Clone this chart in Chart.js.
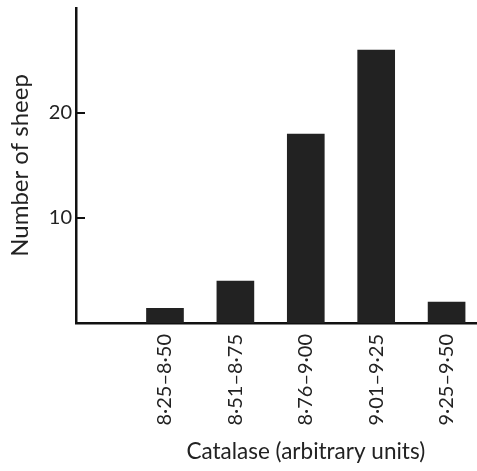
<!DOCTYPE html>
<html>
<head>
<meta charset="utf-8">
<script src="https://cdn.jsdelivr.net/npm/chart.js@4"></script>
<style>
  body { margin: 0; background: #fff; }
  canvas { display: block; }
</style>
</head>
<body>
<canvas id="chart" width="477" height="471"></canvas>
<script>
const categories = ["8·25–8·50", "8·51–8·75", "8·76–9·00", "9·01–9·25", "9·25–9·50"];
const positions = [1, 2, 3, 4, 5];
const sheepCounts = [1.4, 4, 18, 26, 2];
const yTickValues = [10, 20];

const ink = "#222";
const fontFamily = "Lato, 'Open Sans', sans-serif";

// short tick marks on the inner side of the y axis,
// and the x title under the middle class
const axisExtras = {
  id: "axisExtras",
  afterDraw(chart) {
    const ctx = chart.ctx;
    const y = chart.scales.y;
    ctx.save();
    ctx.strokeStyle = "#111";
    ctx.lineWidth = 2;
    y.ticks.forEach((t) => {
      const py = Math.round(y.getPixelForValue(t.value));
      ctx.beginPath();
      ctx.moveTo(y.right, py);
      ctx.lineTo(y.right + 9, py);
      ctx.stroke();
    });

    const x = chart.scales.x.getPixelForValue(3);
    ctx.font = "22.5px " + fontFamily;
    ctx.fillStyle = ink;
    ctx.textAlign = "center";
    ctx.textBaseline = "middle";
    ctx.fillText("Catalase (arbitrary units)", x, 452);
    ctx.restore();
  },
};

new Chart(document.getElementById("chart"), {
  type: "bar",
  data: {
    datasets: [
      {
        label: "Number of sheep",
        data: positions.map((p, i) => ({ x: p, y: sheepCounts[i] })),
        backgroundColor: ink,
        barThickness: 37,
      },
    ],
  },
  options: {
    responsive: false,
    animation: false,
    layout: { padding: { top: 8, right: 0, left: 0, bottom: 0 } },
    plugins: {
      legend: { display: false },
      tooltip: { enabled: false },
    },
    scales: {
      x: {
        type: "linear",
        offset: false,
        min: -0.264,
        max: 5.432,
        afterBuildTicks: (scale) => {
          scale.ticks = positions.map((v) => ({ value: v }));
        },
        afterFit: (scale) => {
          scale.height = 148;
          scale.paddingLeft = 0;
          scale.paddingRight = 0;
        },
        ticks: {
          minRotation: 90,
          maxRotation: 90,
          padding: 3,
          color: ink,
          font: { family: fontFamily, size: 20 },
          callback: (v) => categories[v - 1],
        },
        grid: { display: false },
        border: { display: true, color: "#111", width: 2.5 },
      },
      y: {
        min: 0,
        max: 30,
        afterBuildTicks: (scale) => {
          scale.ticks = yTickValues.map((v) => ({ value: v }));
        },
        afterFit: (scale) => {
          scale.width = 76;
          scale.paddingTop = 0;
          scale.paddingBottom = 0;
        },
        ticks: {
          padding: 4,
          color: ink,
          font: { family: fontFamily, size: 20 },
        },
        grid: {
          drawOnChartArea: false,
          drawTicks: false,
        },
        border: { display: true, color: "#111", width: 2.5 },
        title: {
          display: true,
          text: "Number of sheep",
          color: ink,
          font: { family: fontFamily, size: 24 },
          padding: { top: 6, bottom: 0 },
        },
      },
    },
  },
  plugins: [axisExtras],
});
</script>
</body>
</html>
